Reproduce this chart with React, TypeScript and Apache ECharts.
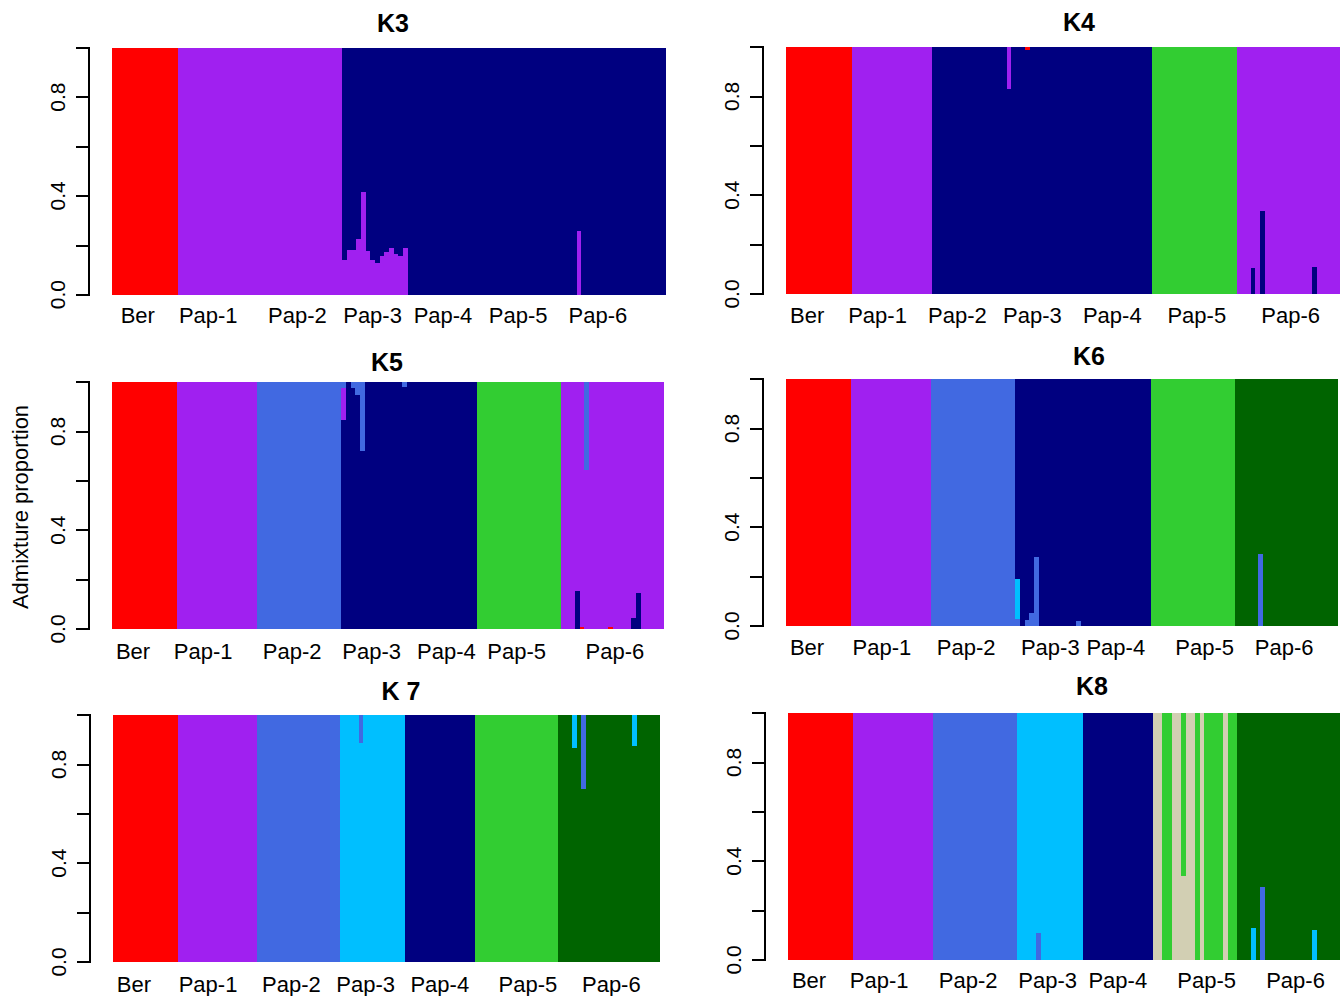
import React, { useEffect, useRef } from "react";
import * as echarts from "echarts";

// ---------- data ----------
const groups = ["Ber", "Pap-1", "Pap-2", "Pap-3", "Pap-4", "Pap-5", "Pap-6"];
const groupSizes = [14, 17, 18, 14, 15, 18, 22];

const clusterColors: Record<string, string> = {
  R: "#FF0000",
  P: "#A020F0",
  B: "#4169E1",
  C: "#00BFFF",
  N: "#000080",
  G: "#32CD32",
  D: "#006400",
  W: "#D2CFB3",
};

// K3
const k3Order = ["R", "P", "N"];
const k3GroupCluster = ["R", "P", "P", "N", "N", "N", "N"];
const k3Mixed: [number, string, number][] = [
  [49, "P", 0.14], [50, "P", 0.18], [51, "P", 0.18], [52, "P", 0.225], [53, "P", 0.415],
  [54, "P", 0.177], [55, "P", 0.14], [56, "P", 0.128], [57, "P", 0.157], [58, "P", 0.173],
  [59, "P", 0.19], [60, "P", 0.165], [61, "P", 0.157], [62, "P", 0.19], [99, "P", 0.258],
];

// K4
const k4Order = ["N", "G", "P", "R"];
const k4GroupCluster = ["R", "P", "N", "N", "N", "G", "P"];
const k4Mixed: [number, string, number][] = [
  [47, "P", 0.17], [51, "R", 0.012], [99, "N", 0.105], [101, "N", 0.336], [112, "N", 0.11],
];

// K5
const k5Order = ["R", "N", "P", "B", "G"];
const k5GroupCluster = ["R", "P", "B", "N", "N", "G", "P"];
const k5Mixed: [number, string, number][] = [
  [49, "P", 0.13], [49, "B", 0.024], [51, "B", 0.024], [52, "B", 0.053], [53, "B", 0.28],
  [62, "B", 0.02], [99, "N", 0.154], [100, "R", 0.008], [101, "B", 0.356], [106, "R", 0.008],
  [111, "N", 0.045], [112, "N", 0.146],
];

// K6
const k6Order = ["R", "P", "B", "C", "N", "G", "D"];
const k6GroupCluster = ["R", "P", "B", "N", "N", "G", "D"];
const k6Mixed: [number, string, number][] = [
  [49, "B", 0.03], [49, "C", 0.16], [51, "B", 0.024], [52, "B", 0.053], [53, "B", 0.28],
  [62, "B", 0.02], [101, "B", 0.29],
];

// K7
const k7Order = ["R", "P", "N", "G", "D", "C", "B"];
const k7GroupCluster = ["R", "P", "B", "C", "N", "G", "D"];
const k7Mixed: [number, string, number][] = [
  [53, "B", 0.113], [99, "C", 0.134], [101, "B", 0.3], [112, "C", 0.126],
];

// K8
const k8Order = ["R", "P", "B", "C", "N", "W", "G", "D"];
const k8GroupCluster = ["R", "P", "B", "C", "N", "G", "D"];
const k8Mixed: [number, string, number][] = [
  [53, "B", 0.11],
  [78, "W", 1], [79, "W", 1], [82, "W", 1], [83, "W", 1], [84, "W", 0.34],
  [85, "W", 1], [86, "W", 1], [88, "W", 1], [93, "W", 1],
  [99, "C", 0.13], [101, "B", 0.296], [112, "C", 0.12],
];

const titles = ["K3", "K4", "K5", "K6", "K 7", "K8"];
const yTickLabels = ["0.0", "0.4", "0.8"];

// ---------- layout ----------
const panels = [
  { order: k3Order, gc: k3GroupCluster, mixed: k3Mixed, grid: [112, 47.7, 554, 247], title: [393, 23], labelIdx: [5, 20, 39, 55, 70, 86, 103], labelMargin: 10 },
  { order: k4Order, gc: k4GroupCluster, mixed: k4Mixed, grid: [786, 47, 554, 247], title: [1079, 22], labelIdx: [4, 19, 36, 52, 69, 87, 107], labelMargin: 10 },
  { order: k5Order, gc: k5GroupCluster, mixed: k5Mixed, grid: [112, 382, 552, 247], title: [387, 362], labelIdx: [4, 19, 38, 55, 71, 86, 107], labelMargin: 11 },
  { order: k6Order, gc: k6GroupCluster, mixed: k6Mixed, grid: [786, 379, 552, 247], title: [1089, 356], labelIdx: [4, 20, 38, 56, 70, 89, 106], labelMargin: 10 },
  { order: k7Order, gc: k7GroupCluster, mixed: k7Mixed, grid: [113, 715, 547, 247], title: [401, 691], labelIdx: [4, 20, 38, 54, 70, 89, 107], labelMargin: 11 },
  { order: k8Order, gc: k8GroupCluster, mixed: k8Mixed, grid: [788, 713, 552, 247], title: [1092, 686], labelIdx: [4, 19, 38, 55, 70, 89, 108], labelMargin: 9 },
];

const FONT = "'Liberation Sans', Arial, Helvetica, sans-serif";

function buildQ(order: string[], gc: string[], mixed: [number, string, number][]) {
  const base: string[] = [];
  groupSizes.forEach((s, g) => {
    for (let i = 0; i < s; i++) base.push(gc[g]);
  });
  const n = base.length;
  const q: Record<string, number[]> = {};
  order.forEach((c) => (q[c] = new Array(n).fill(0)));
  base.forEach((c, i) => (q[c][i] = 1));
  mixed.forEach(([i, c, v]) => {
    q[c][i] += v;
    q[base[i]][i] -= v;
  });
  return { q, n };
}

export default function App() {
  const ref = useRef<HTMLDivElement>(null);
  useEffect(() => {
    document.body.style.margin = "0";
    if (!ref.current) return;
    const chart = echarts.init(ref.current, undefined, { renderer: "svg" });
    const grid: any[] = [];
    const xAxis: any[] = [];
    const yAxis: any[] = [];
    const series: any[] = [];
    const graphic: any[] = [];
    panels.forEach((p, pi) => {
      const { q, n } = buildQ(p.order, p.gc, p.mixed);
      const ids = Array.from({ length: n }, (_, i) => String(i + 1));
      const labelMap: Record<number, string> = {};
      p.labelIdx.forEach((idx, g) => (labelMap[idx] = groups[g]));
      grid.push({ left: p.grid[0], top: p.grid[1], width: p.grid[2], height: p.grid[3] });
      xAxis.push({
        type: "category",
        gridIndex: pi,
        data: ids,
        axisLine: { show: false },
        axisTick: { show: false },
        splitLine: { show: false },
        axisLabel: {
          interval: 0,
          margin: p.labelMargin,
          fontSize: 22,
          color: "#000",
          fontFamily: FONT,
          formatter: (_v: string, idx: number) => labelMap[idx] ?? "",
        },
      });
      yAxis.push({
        type: "value",
        gridIndex: pi,
        min: 0,
        max: 1,
        interval: 0.2,
        offset: 23,
        axisLine: { show: true, lineStyle: { color: "#000", width: 2 } },
        axisTick: { show: true, length: 13, lineStyle: { color: "#000", width: 2 } },
        splitLine: { show: false },
        axisLabel: {
          rotate: 90,
          margin: 21,
          fontSize: 21,
          color: "#000",
          fontFamily: FONT,
          formatter: (v: number) => {
            const k = Math.round(v * 10);
            return k === 0 ? yTickLabels[0] : k === 4 ? yTickLabels[1] : k === 8 ? yTickLabels[2] : "";
          },
        },
      });
      p.order.forEach((c) => {
        series.push({
          type: "bar",
          xAxisIndex: pi,
          yAxisIndex: pi,
          stack: "s" + pi,
          data: q[c],
          barCategoryGap: "0%",
          silent: true,
          itemStyle: { color: clusterColors[c] },
        });
      });
      graphic.push({
        type: "text",
        x: p.title[0],
        y: p.title[1],
        style: {
          text: titles[pi],
          fontSize: 25,
          fontWeight: "bold",
          fontFamily: FONT,
          fill: "#000",
          textAlign: "center",
          textVerticalAlign: "middle",
        },
      });
    });
    graphic.push({
      type: "text",
      x: 20,
      y: 507,
      rotation: Math.PI / 2,
      style: {
        text: "Admixture proportion",
        fontSize: 22,
        fontFamily: FONT,
        fill: "#000",
        textAlign: "center",
        textVerticalAlign: "middle",
      },
    });
    chart.setOption({ animation: false, backgroundColor: "#fff", grid, xAxis, yAxis, series, graphic });
    const svg = ref.current.querySelector("svg");
    if (svg) (svg as SVGElement).style.shapeRendering = "crispEdges";
    return () => chart.dispose();
  }, []);
  return <div ref={ref} style={{ width: 1341, height: 996 }} />;
}
